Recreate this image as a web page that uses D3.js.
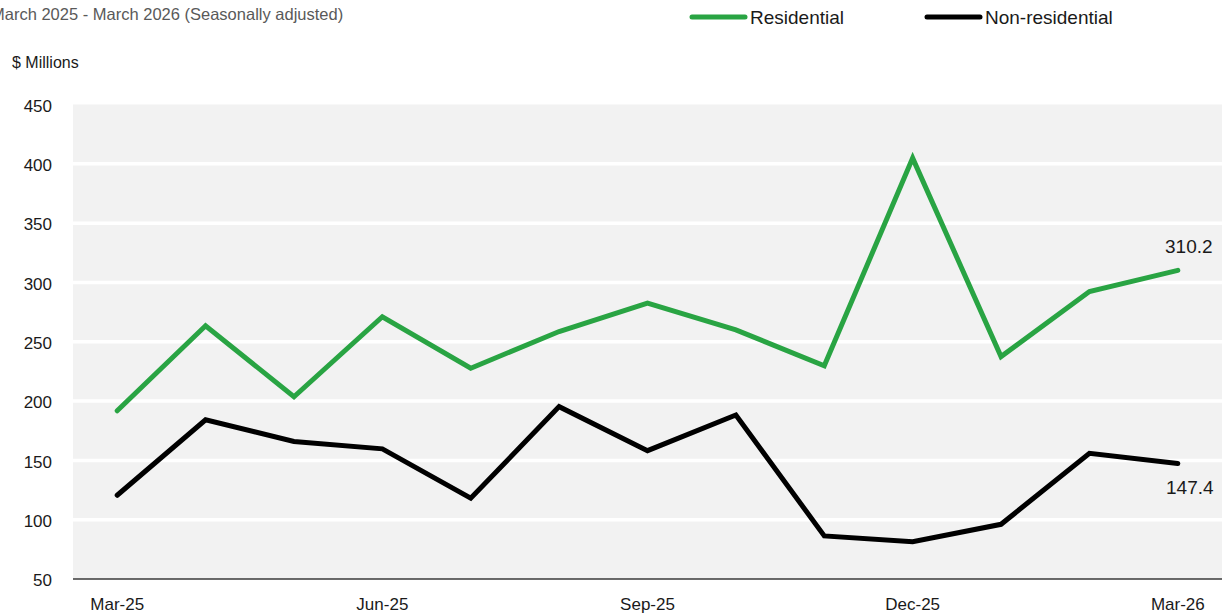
<!DOCTYPE html>
<html>
<head>
<meta charset="utf-8">
<script src="https://cdn.jsdelivr.net/npm/d3@7"></script>
<style>
    body { margin: 0; background: #fff; }
    svg { display: block; font-family: "Liberation Sans", Arial, sans-serif; }
    .axis path, .axis line { display: none; }
    .axis text { fill: #1a1a1a; font-size: 17px; }
</style>
</head>
<body>
<div class="chart"></div>
<script>

//////////
// DATA //
//////////

var months = ['Mar-25', 'Apr-25', 'May-25', 'Jun-25', 'Jul-25', 'Aug-25', 'Sep-25',
    'Oct-25', 'Nov-25', 'Dec-25', 'Jan-26', 'Feb-26', 'Mar-26'];

var residential = [191.8, 263.5, 203.6, 271.1, 227.7, 258.6, 282.5, 260.0, 229.7, 404.8, 237.5, 292.3, 310.2];

var nonResidential = [120.6, 184.2, 165.9, 159.7, 118.1, 195.3, 158.2, 188.3, 86.3, 81.5, 96.1, 156.0, 147.4];

var xTicks = ['Mar-25', 'Jun-25', 'Sep-25', 'Dec-25', 'Mar-26'];
var yTicks = [50, 100, 150, 200, 250, 300, 350, 400, 450];

var seriesNames = ['Residential', 'Non-residential'];
var seriesColors = ['#29a443', '#000000'];

//////////////////////
// INITIAL SETTINGS //
//////////////////////

// note: "top" is taken by window.top, so use plot* names
var w = 1223,
    h = 616,
    plotLeft = 73,
    plotRight = 1222,
    plotTop = 104.5,
    plotBottom = 579;

var svg = d3.select('.chart')
    .append('svg')
    .attr('width', w)
    .attr('height', h);

////////////
// SCALES //
////////////

var xScale = d3.scaleBand()
    .domain(months)
    .range([plotLeft, plotRight])
    .padding(0);

var yScale = d3.scaleLinear()
    .domain([50, 450])
    .range([plotBottom, plotTop]);

function xc(m) { return xScale(m) + xScale.bandwidth() / 2; }

////////////////
// BACKGROUND //
////////////////

svg.append('rect')
    .attr('x', plotLeft)
    .attr('y', yScale(450))
    .attr('width', plotRight - plotLeft)
    .attr('height', yScale(50) - yScale(450))
    .attr('fill', '#f2f2f2');

svg.append('g')
    .selectAll('line')
    .data(yTicks.slice(1, -1))
    .enter()
    .append('line')
    .attr('x1', plotLeft)
    .attr('x2', plotRight)
    .attr('y1', function(d) { return yScale(d); })
    .attr('y2', function(d) { return yScale(d); })
    .attr('stroke', '#fff')
    .attr('stroke-width', 3.5);

//////////
// AXIS //
//////////

svg.append('g')
    .attr('class', 'axis')
    .attr('transform', 'translate(' + plotLeft + ',0)')
    .call(d3.axisLeft(yScale).tickValues(yTicks).tickSize(0).tickPadding(21))
    .selectAll('text')
    .attr('dy', '0.4em');

svg.append('g')
    .attr('class', 'axis')
    .attr('transform', 'translate(0,' + plotBottom + ')')
    .call(d3.axisBottom(xScale).tickValues(xTicks).tickSize(0).tickPadding(19));

svg.append('line')
    .attr('x1', plotLeft)
    .attr('x2', plotRight)
    .attr('y1', plotBottom)
    .attr('y2', plotBottom)
    .attr('stroke', '#3a3a3a')
    .attr('stroke-width', 1.5);

///////////
// LINES //
///////////

var line = d3.line()
    .x(function(d, i) { return xc(months[i]); })
    .y(function(d) { return yScale(d); });

[residential, nonResidential].forEach(function(s, i) {
    svg.append('path')
        .datum(s)
        .attr('d', line)
        .attr('fill', 'none')
        .attr('stroke', seriesColors[i])
        .attr('stroke-width', 5)
        .attr('stroke-linecap', 'round')
        .attr('stroke-linejoin', 'miter');
});

// end labels
var last = months.length - 1;

svg.append('text')
    .attr('x', xc(months[last]) + 11)
    .attr('y', yScale(residential[last]) - 17)
    .attr('text-anchor', 'middle')
    .attr('font-size', 19)
    .attr('fill', '#1a1a1a')
    .text(residential[last].toFixed(1));

svg.append('text')
    .attr('x', xc(months[last]) + 12)
    .attr('y', yScale(nonResidential[last]) + 31)
    .attr('text-anchor', 'middle')
    .attr('font-size', 19)
    .attr('fill', '#1a1a1a')
    .text(nonResidential[last].toFixed(1));

////////////
// TITLES //
////////////

svg.append('text')
    .attr('x', -9)
    .attr('y', 20)
    .attr('font-size', 16.5)
    .attr('fill', '#595959')
    .text('March 2025 - March 2026 (Seasonally adjusted)');

svg.append('text')
    .attr('x', 12)
    .attr('y', 68)
    .attr('font-size', 16)
    .attr('fill', '#1a1a1a')
    .text('$ Millions');

////////////
// LEGEND //
////////////

var legendX = [692, 927];

seriesNames.forEach(function(name, i) {
    svg.append('line')
        .attr('x1', legendX[i])
        .attr('x2', legendX[i] + 53)
        .attr('y1', 17)
        .attr('y2', 17)
        .attr('stroke', seriesColors[i])
        .attr('stroke-width', 5)
        .attr('stroke-linecap', 'round');

    svg.append('text')
        .attr('x', legendX[i] + 58)
        .attr('y', 24)
        .attr('font-size', 19)
        .attr('fill', '#1a1a1a')
        .text(name);
});

</script>
</body>
</html>
